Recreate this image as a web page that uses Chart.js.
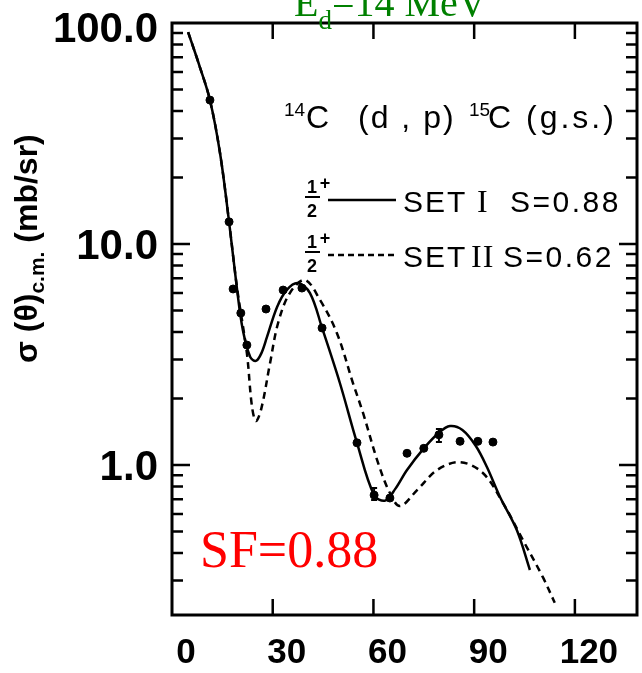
<!DOCTYPE html>
<html>
<head>
<meta charset="utf-8">
<script src="https://cdn.jsdelivr.net/npm/chart.js"></script>
<style>
  html, body { margin: 0; padding: 0; background: #fff; }
  canvas { display: block; }
</style>
</head>
<body>
<canvas id="chart" width="642" height="673"></canvas>
<script>
// experimental points (theta c.m. in degrees, sigma in mb/sr)
const expAngle = [11.3, 17.0, 18.2, 20.5, 22.3, 28.0, 33.1, 38.7, 44.7, 55.1, 60.2, 64.9, 70.0, 75.0, 79.5, 85.8, 91.1, 95.6];
const expSigma = [44.8, 12.6, 6.26, 4.87, 3.49, 5.08, 6.19, 6.32, 4.17, 1.26, 0.731, 0.709, 1.13, 1.19, 1.37, 1.28, 1.28, 1.27];

// error bars
const errAngle = [60.2, 79.5];
const errLow = [0.694, 1.27];
const errHigh = [0.787, 1.455];

// SET I  S=0.88 (solid)
const set1Angle = [4.8, 8.3, 11.3, 14.3, 17.0, 19.4, 21.1, 23.3, 25.0, 26.6, 28.3, 31.3, 34.2, 37.5, 41.1, 44.7, 50.0, 55.1, 60.2, 63.5, 66.5, 70.0, 75.0, 79.5, 82.8, 86.5, 90.5, 93.8, 97.7, 102.7, 106.6];
const set1Sigma = [91.0, 63.2, 44.8, 25.8, 12.6, 6.19, 4.08, 3.08, 2.96, 3.2, 3.8, 5.19, 6.2, 6.66, 6.0, 4.17, 2.35, 1.26, 0.73, 0.69, 0.78, 0.95, 1.19, 1.40, 1.50, 1.44, 1.22, 0.98, 0.717, 0.508, 0.335];

// SET II  S=0.62 (dashed)
const set2Angle = [4.8, 8.3, 11.3, 14.3, 17.0, 19.4, 22.3, 23.8, 25.0, 26.6, 29.2, 31.6, 35.1, 39.6, 44.1, 49.1, 53.9, 56.9, 61.4, 64.9, 67.9, 73.0, 79.0, 85.8, 92.6, 98.6, 104.5, 110.5, 114.0];
const set2Sigma = [91.0, 63.2, 44.8, 25.8, 12.6, 6.3, 3.21, 1.85, 1.58, 1.8, 2.89, 4.39, 6.0, 6.87, 5.58, 3.96, 2.35, 1.72, 1.02, 0.747, 0.652, 0.77, 0.95, 1.03, 0.92, 0.673, 0.458, 0.31, 0.238];

const xTicks = [0, 30, 60, 90, 120];
const yTicks = [100, 10, 1];
const yTickLabels = ["100.0", "10.0", "1.0"];

const toXY = (xs, ys) => xs.map((x, i) => ({ x: x, y: ys[i] }));

// draw a row of text pieces one after another
function runs(ctx, x, y, parts) {
  let cx = x;
  parts.forEach(p => {
    ctx.font = p.font;
    ctx.letterSpacing = p.ls || "0px";
    ctx.fillText(p.t, cx, y + (p.dy || 0));
    cx += ctx.measureText(p.t).width;
  });
  ctx.letterSpacing = "0px";
}

const framePlugin = {
  id: "frame",
  afterDatasetsDraw(chart) {
    const ctx = chart.ctx;
    const a = chart.chartArea;
    const xs = chart.scales.x, ys = chart.scales.y;
    ctx.save();
    ctx.strokeStyle = "#000";
    ctx.fillStyle = "#000";

    // error bars
    ctx.lineWidth = 2;
    errAngle.forEach((v, i) => {
      const px = xs.getPixelForValue(v);
      const p1 = ys.getPixelForValue(errLow[i]);
      const p2 = ys.getPixelForValue(errHigh[i]);
      ctx.beginPath();
      ctx.moveTo(px, p1); ctx.lineTo(px, p2);
      ctx.moveTo(px - 3, p1); ctx.lineTo(px + 3, p1);
      ctx.moveTo(px - 3, p2); ctx.lineTo(px + 3, p2);
      ctx.stroke();
    });

    // frame
    ctx.lineWidth = 3;
    ctx.strokeRect(a.left, a.top, a.right - a.left, a.bottom - a.top);

    // x ticks, top and bottom, pointing in
    ctx.lineWidth = 2.5;
    xTicks.forEach(v => {
      if (v <= xs.min) return;
      const px = xs.getPixelForValue(v);
      ctx.beginPath();
      ctx.moveTo(px, a.bottom); ctx.lineTo(px, a.bottom - 16);
      ctx.moveTo(px, a.top); ctx.lineTo(px, a.top + 16);
      ctx.stroke();
    });

    // y ticks, left and right
    [0.1, 1, 10].forEach(dec => {
      for (let m = 1; m <= 9; m++) {
        const v = m * dec;
        if (v < ys.min || v >= ys.max) continue;
        const py = ys.getPixelForValue(v);
        const len = m === 1 ? 18 : 11;
        ctx.beginPath();
        ctx.moveTo(a.left, py); ctx.lineTo(a.left + len, py);
        ctx.moveTo(a.right, py); ctx.lineTo(a.right - len, py);
        ctx.stroke();
      }
    });

    // tick labels
    ctx.font = "bold 35px 'Liberation Sans', Arial, sans-serif";
    ctx.textAlign = "center";
    ctx.textBaseline = "alphabetic";
    xTicks.forEach(v => {
      ctx.fillText(String(v), xs.getPixelForValue(v) + 14, 663);
    });
    ctx.font = "bold 42px 'Liberation Sans', Arial, sans-serif";
    ctx.textAlign = "right";
    yTicks.forEach((v, i) => {
      const py = ys.getPixelForValue(v);
      ctx.fillText(yTickLabels[i], 158, Math.max(py + 15, 42));
    });

    // y axis title
    ctx.save();
    ctx.translate(37, 363);
    ctx.rotate(-Math.PI / 2);
    ctx.textAlign = "left";
    runs(ctx, 0, 0, [
      { t: "σ (θ)", font: "bold 32px 'Liberation Sans', Arial, sans-serif" },
      { t: "c.m.", font: "bold 21px 'Liberation Sans', Arial, sans-serif", dy: 7 },
      { t: " (mb/sr)", font: "bold 32px 'Liberation Sans', Arial, sans-serif" }
    ]);
    ctx.restore();

    ctx.textAlign = "left";

    // title
    ctx.fillStyle = "#008000";
    runs(ctx, 294, 16, [
      { t: "E", font: "40px 'Liberation Serif', 'Times New Roman', serif" },
      { t: "d", font: "27px 'Liberation Serif', 'Times New Roman', serif", dy: 13 },
      { t: "=14 MeV", font: "40px 'Liberation Serif', 'Times New Roman', serif" }
    ]);

    // reaction
    ctx.fillStyle = "#000";
    const big = "32px 'Liberation Sans', Arial, sans-serif";
    const sup = "19px 'Liberation Sans', Arial, sans-serif";
    ctx.font = sup; ctx.fillText("14", 284, 116);
    ctx.font = big; ctx.fillText("C", 306, 128);
    ctx.letterSpacing = "2px";
    ctx.fillText("(d , p)", 358, 128);
    ctx.letterSpacing = "0px";
    ctx.font = sup; ctx.fillText("15", 469, 116);
    ctx.font = big; ctx.fillText("C", 488, 128);
    ctx.letterSpacing = "3px";
    ctx.fillText("(g.s.)", 526, 128);
    ctx.letterSpacing = "0px";

    // legend
    const legend = [
      { y: 200, dash: [], set: "I", s: "S=0.88", sx: 477, vx: 510 },
      { y: 255, dash: [6, 4], set: "II", s: "S=0.62", sx: 471, vx: 503 }
    ];
    legend.forEach(L => {
      ctx.font = "bold 18px 'Liberation Sans', Arial, sans-serif";
      ctx.textAlign = "center";
      ctx.fillText("1", 312, L.y - 7);
      ctx.fillText("2", 312, L.y + 17);
      ctx.fillText("+", 325, L.y - 11);
      ctx.lineWidth = 2;
      ctx.beginPath(); ctx.moveTo(305, L.y - 3); ctx.lineTo(320, L.y - 3); ctx.stroke();
      ctx.lineWidth = 2.5;
      ctx.setLineDash(L.dash);
      ctx.beginPath(); ctx.moveTo(328, L.y); ctx.lineTo(396, L.y); ctx.stroke();
      ctx.setLineDash([]);
      ctx.textAlign = "left";
      ctx.font = "30px 'Liberation Sans', Arial, sans-serif";
      ctx.letterSpacing = "2px";
      ctx.fillText("SET", 403, L.y + 12);
      ctx.font = "32px 'Liberation Serif', 'Times New Roman', serif";
      ctx.letterSpacing = "1px";
      ctx.fillText(L.set, L.sx, L.y + 12);
      ctx.font = "30px 'Liberation Sans', Arial, sans-serif";
      ctx.letterSpacing = "2.5px";
      ctx.fillText(L.s, L.vx, L.y + 12);
      ctx.letterSpacing = "0px";
    });

    // spectroscopic factor
    ctx.fillStyle = "#ff0000";
    ctx.font = "52px 'Liberation Serif', 'Times New Roman', serif";
    ctx.fillText("SF=0.88", 200, 567);

    ctx.restore();
  }
};

new Chart(document.getElementById("chart").getContext("2d"), {
  type: "line",
  data: {
    datasets: [
      {
        label: "SET I S=0.88",
        data: toXY(set1Angle, set1Sigma),
        borderColor: "#000",
        borderWidth: 2.5,
        pointRadius: 0,
        fill: false,
        tension: 0.35
      },
      {
        label: "SET II S=0.62",
        data: toXY(set2Angle, set2Sigma),
        borderColor: "#000",
        borderWidth: 2.5,
        borderDash: [7, 5],
        pointRadius: 0,
        fill: false,
        tension: 0.35
      },
      {
        label: "data",
        data: toXY(expAngle, expSigma),
        showLine: false,
        pointRadius: 4,
        pointBackgroundColor: "#000",
        pointBorderColor: "#000",
        pointBorderWidth: 1
      }
    ]
  },
  options: {
    responsive: false,
    animation: false,
    layout: { padding: { left: 172, top: 23, right: 5, bottom: 58 } },
    plugins: { legend: { display: false }, tooltip: { enabled: false } },
    scales: {
      x: { type: "linear", min: 0, max: 138.5, display: false },
      y: { type: "logarithmic", min: 0.2096, max: 100, display: false }
    }
  },
  plugins: [framePlugin]
});
</script>
</body>
</html>
